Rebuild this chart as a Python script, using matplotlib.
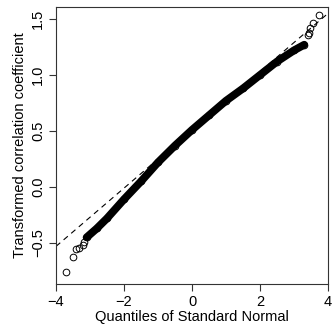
import matplotlib
matplotlib.use("Agg")
import matplotlib.pyplot as plt

# Normal QQ plot of the transformed correlation coefficients
# Dense central band: theoretical quantile vs sample value
band_x = [-3.10, -2.80, -2.50, -2.00, -1.50, -1.00, -0.50, 0.00,
          0.50, 1.00, 1.50, 2.00, 2.50, 3.00, 3.30]
band_y = [-0.45, -0.37, -0.28, -0.11, 0.05, 0.22, 0.37, 0.51,
          0.64, 0.77, 0.88, 1.00, 1.12, 1.22, 1.27]

# Sparse tail observations
low_x = [-3.70, -3.50, -3.42, -3.32, -3.22, -3.18]
low_y = [-0.756, -0.622, -0.554, -0.547, -0.518, -0.488]
high_x = [3.40, 3.44, 3.48, 3.57, 3.74]
high_y = [1.357, 1.372, 1.417, 1.467, 1.535]

# Reference line through the quartiles
line_intercept = 0.51
line_slope = 0.26

x_ticks = [-4, -2, 0, 2, 4]
y_ticks = [-0.5, 0.0, 0.5, 1.0, 1.5]

plt.rcParams["font.family"] = ["Liberation Sans", "DejaVu Sans"]

fig = plt.figure(figsize=(3.32, 3.29), dpi=100)
ax = fig.add_axes([0.1687, 0.1368, 0.8193, 0.8419])

circ = dict(marker="o", linestyle="none", markersize=4.8,
            markerfacecolor="none", markeredgecolor="black",
            markeredgewidth=0.7)

ax.plot(band_x, band_y, color="black", linewidth=5.6,
        solid_capstyle="round", solid_joinstyle="round")
ax.plot(band_x, band_y, **circ)
ax.plot(low_x, low_y, **circ)
ax.plot(high_x, high_y, **circ)

lx = [-4.0, 4.0]
ly = [line_intercept + line_slope * v for v in lx]
ax.plot(lx, ly, color="black", linewidth=0.8, linestyle=(0, (5, 4)))

ax.set_xlim(-4.0, 4.0)
ax.set_ylim(-0.866, 1.607)
ax.set_xticks(x_ticks)
ax.set_xticklabels([str(v).replace("-", "\u2212") for v in x_ticks])
ax.set_yticks(y_ticks)
ax.set_yticklabels([f"{v:.1f}".replace("-", "\u2212") for v in y_ticks],
                   rotation=90, va="center")

for s in ax.spines.values():
    s.set_linewidth(0.8)
    s.set_color("#333333")
ax.tick_params(direction="out", length=5, width=0.8, labelsize=10.5,
               pad=3, color="#333333")

ax.set_xlabel("Quantiles of Standard Normal", fontsize=10.5, labelpad=1)
ax.set_ylabel("Transformed correlation coefficient", fontsize=10.5, labelpad=3)

fig.savefig("out.png", dpi=100)
